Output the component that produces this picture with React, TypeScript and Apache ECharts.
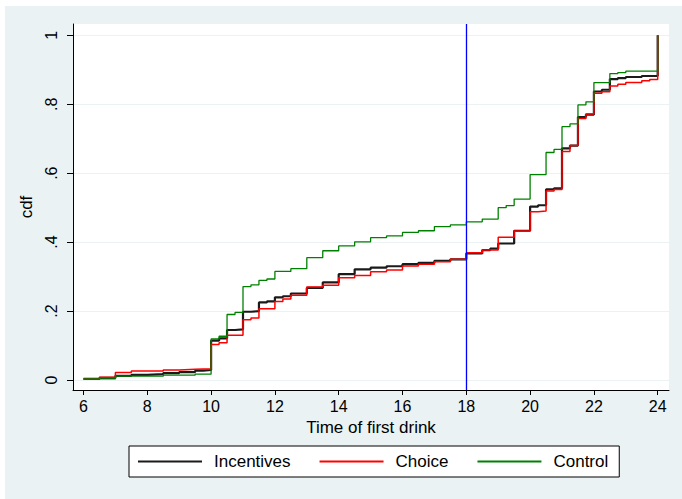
import React, { useEffect, useRef } from "react";
import * as echarts from "echarts";

// Step CDF points: [time, cdf] — value holds until next time
const incentivesX = [6, 6.5, 7, 7.5, 8, 8.5, 9, 9.5, 9.75, 10, 10.25, 10.5, 10.75, 11, 11.25, 11.5, 11.75, 12, 12.25, 12.5, 13, 13.5, 14, 14.5, 15, 15.5, 16, 16.5, 17, 17.5, 18, 18.5, 18.75, 19, 19.5, 20, 20.25, 20.5, 20.75, 21, 21.25, 21.5, 21.75, 22, 22.25, 22.5, 22.75, 23, 23.5, 24];
const incentivesY = [0.003, 0.006, 0.012, 0.015, 0.017, 0.02, 0.023, 0.027, 0.029, 0.114, 0.121, 0.145, 0.147, 0.198, 0.2, 0.225, 0.228, 0.24, 0.243, 0.251, 0.267, 0.283, 0.307, 0.321, 0.326, 0.33, 0.336, 0.34, 0.346, 0.35, 0.367, 0.377, 0.381, 0.396, 0.433, 0.503, 0.507, 0.553, 0.556, 0.672, 0.68, 0.763, 0.77, 0.837, 0.842, 0.873, 0.876, 0.879, 0.882, 1.0];

const choiceX = [6, 6.5, 7, 7.5, 8.5, 9, 9.5, 10, 10.25, 10.5, 11, 11.25, 11.5, 12, 12.25, 12.5, 13, 13.5, 14, 14.5, 15, 15.5, 16, 16.5, 17, 17.5, 18, 18.5, 19, 19.5, 20, 20.25, 20.5, 20.75, 21, 21.25, 21.5, 21.75, 22, 22.25, 22.5, 22.75, 23, 23.5, 23.75, 24];
const choiceY = [0.003, 0.008, 0.022, 0.026, 0.029, 0.031, 0.033, 0.103, 0.108, 0.13, 0.175, 0.18, 0.207, 0.228, 0.235, 0.246, 0.27, 0.275, 0.297, 0.303, 0.314, 0.319, 0.331, 0.336, 0.343, 0.35, 0.369, 0.377, 0.414, 0.432, 0.488, 0.49, 0.548, 0.553, 0.663, 0.68, 0.759, 0.772, 0.832, 0.836, 0.853, 0.858, 0.863, 0.868, 0.872, 1.0];

const controlX = [6, 7, 8.5, 9.5, 10, 10.25, 10.5, 10.75, 11, 11.25, 11.5, 11.75, 12, 12.5, 13, 13.5, 14, 14.5, 15, 15.5, 16, 16.5, 17, 17.5, 18, 18.5, 19, 19.25, 19.5, 20, 20.5, 20.75, 21, 21.25, 21.5, 21.75, 22, 22.5, 22.75, 23, 24];
const controlY = [0.003, 0.011, 0.014, 0.017, 0.119, 0.127, 0.19, 0.196, 0.271, 0.276, 0.289, 0.293, 0.315, 0.323, 0.355, 0.375, 0.389, 0.401, 0.413, 0.418, 0.428, 0.433, 0.445, 0.45, 0.459, 0.467, 0.5, 0.506, 0.525, 0.596, 0.66, 0.669, 0.735, 0.743, 0.798, 0.807, 0.863, 0.889, 0.892, 0.896, 1.0];

const xTicks = [6, 8, 10, 12, 14, 16, 18, 20, 22, 24];
const yTicks = [0, 0.2, 0.4, 0.6, 0.8, 1];
const yTickLabels = ["0", ".2", ".4", ".6", ".8", "1"];
const cutoffTime = 18;

const seriesNames = ["Incentives", "Choice", "Control"];
const seriesColors = ["#1a1a1a", "#ff0000", "#008000"];
const seriesWidths = [2.2, 1.5, 1.3];

const FONT = "'Liberation Sans', Arial, Helvetica, sans-serif";

function zip(xs: number[], ys: number[]) {
  return xs.map((x, i) => [x, ys[i]]);
}

export default function App() {
  const ref = useRef<HTMLDivElement>(null);
  useEffect(() => {
    if (!ref.current) return;
    const chart = echarts.init(ref.current, undefined, { renderer: "svg" });
    const datasets = [zip(incentivesX, incentivesY), zip(choiceX, choiceY), zip(controlX, controlY)];
    chart.setOption({
      animation: false,
      backgroundColor: "#EAF2F3",
      textStyle: { fontFamily: FONT },
      grid: {
        left: 68,
        top: 18,
        right: 13,
        bottom: 109,
        show: true,
        backgroundColor: "#ffffff",
        borderWidth: 0,
      },
      xAxis: {
        type: "value",
        min: 5.671,
        max: 24.354,
        name: "Time of first drink",
        nameLocation: "middle",
        nameGap: 27,
        nameTextStyle: { fontSize: 17, color: "#000", fontFamily: FONT },
        axisLine: { show: true, onZero: false, lineStyle: { color: "#000", width: 1 } },
        axisTick: { show: true, length: 5, customValues: xTicks, lineStyle: { color: "#000" } },
        axisLabel: { customValues: xTicks, fontSize: 16, color: "#000", margin: 8, fontFamily: FONT },
        splitLine: { show: false },
      },
      yAxis: {
        type: "value",
        min: -0.029,
        max: 1.0328,
        name: "cdf",
        nameLocation: "middle",
        nameGap: 30,
        nameRotate: 90,
        nameTextStyle: { fontSize: 17, color: "#000", fontFamily: FONT },
        axisLine: { show: true, onZero: false, lineStyle: { color: "#000", width: 1 } },
        axisTick: { show: true, length: 6, customValues: yTicks, lineStyle: { color: "#000" } },
        axisLabel: {
          customValues: yTicks,
          rotate: 90,
          fontSize: 16,
          color: "#000",
          margin: 14,
          fontFamily: FONT,
          formatter: (v: number) => {
            const i = yTicks.findIndex((t) => Math.abs(t - v) < 1e-6);
            return i >= 0 ? yTickLabels[i] : "";
          },
        },
        splitLine: { show: true, lineStyle: { color: "#EAF2F3", width: 1.2 } },
      },
      legend: {
        left: 124,
        top: 440,
        orient: "horizontal",
        itemWidth: 64,
        itemHeight: 14,
        itemGap: 28,
        padding: [7, 11, 7, 8],
        borderColor: "#000",
        borderWidth: 1,
        borderRadius: 0,
        backgroundColor: "#ffffff",
        itemStyle: { opacity: 0, color: "transparent", borderWidth: 0 },
        textStyle: { fontSize: 17, color: "#000", fontFamily: FONT, padding: [0, 0, 0, 7] },
        data: seriesNames,
      },
      series: seriesNames.map((name, i) => ({
        name,
        type: "line",
        step: "end",
        symbol: "none",
        showSymbol: false,
        data: datasets[i],
        lineStyle: { color: seriesColors[i], width: seriesWidths[i] },
        itemStyle: { color: seriesColors[i] },
        z: 2 + i,
        markLine:
          i === 0
            ? {
                silent: true,
                symbol: "none",
                label: { show: false },
                lineStyle: { color: "#0000ff", width: 1.3, type: "solid" },
                data: [{ xAxis: cutoffTime }],
              }
            : undefined,
      })),
    });
    return () => chart.dispose();
  }, []);
  return (
    <div style={{ position: "fixed", left: 0, top: 0, width: 682, height: 499, background: "#ffffff" }}>
      <div ref={ref} style={{ position: "absolute", left: 5, top: 6, width: 677, height: 493 }} />
    </div>
  );
}
